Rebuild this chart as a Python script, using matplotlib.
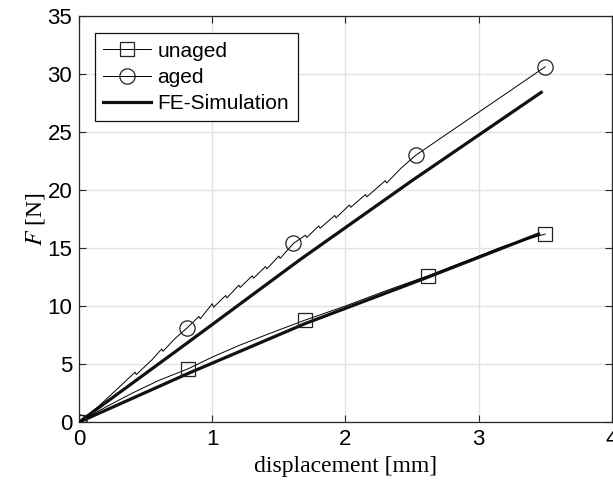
import matplotlib.pyplot as plt

# measured force-displacement curves
unaged_x = [0, 0.2, 0.4, 0.6, 0.82, 1.0, 1.2, 1.4, 1.7, 2.0, 2.3, 2.62, 3.0, 3.2, 3.5]
unaged_y = [0, 1.3, 2.5, 3.6, 4.6, 5.6, 6.6, 7.5, 8.8, 10.0, 11.3, 12.6, 14.3, 15.2, 16.2]
unaged_marks = [0, 4, 8, 11, 14]

aged_x = [0, 0.15, 0.3, 0.42, 0.43, 0.55, 0.62, 0.63, 0.72, 0.81, 0.9, 0.91, 1.0, 1.01,
          1.1, 1.11, 1.2, 1.21, 1.3, 1.31, 1.4, 1.41, 1.5, 1.51, 1.61, 1.7, 1.71, 1.8,
          1.81, 1.92, 1.93, 2.03, 2.04, 2.15, 2.16, 2.3, 2.31, 2.42, 2.53, 3.5]
aged_y = [0, 1.4, 3.0, 4.3, 4.1, 5.4, 6.3, 6.1, 7.2, 8.1, 9.1, 8.9, 10.2, 9.9,
          10.9, 10.7, 11.8, 11.6, 12.6, 12.4, 13.4, 13.2, 14.3, 14.1, 15.4, 16.1, 15.9, 16.9,
          16.7, 17.8, 17.6, 18.7, 18.5, 19.6, 19.4, 20.8, 20.6, 21.9, 23.0, 30.6]
aged_marks = [0, 9, 24, 38, 39]

# FE simulation results
fe_unaged_x = [0, 0.82, 1.7, 2.6, 3.45]
fe_unaged_y = [0, 4.2, 8.5, 12.4, 16.2]
fe_aged_x = [0, 0.81, 1.66, 2.5, 3.47]
fe_aged_y = [0, 6.8, 14.0, 20.8, 28.4]

plt.rcParams['font.family'] = ['Liberation Sans', 'DejaVu Sans']
plt.rcParams['mathtext.fontset'] = 'stix'

fig = plt.figure(figsize=(6.13, 4.92), dpi=100)
ax = fig.add_axes([0.129, 0.142, 0.869, 0.826])

ax.plot(unaged_x, unaged_y, color='black', lw=0.7, marker='s', markevery=unaged_marks,
        ms=9.5, mfc='none', mec='#222222', mew=0.9, label='unaged', zorder=3)
ax.plot(aged_x, aged_y, color='black', lw=0.7, marker='o', markevery=aged_marks,
        ms=11, mfc='none', mec='#222222', mew=0.9, label='aged', zorder=3)
ax.plot(fe_aged_x, fe_aged_y, color='#111111', lw=2.3, label='FE-Simulation', zorder=2)
ax.plot(fe_unaged_x, fe_unaged_y, color='#111111', lw=2.3, zorder=2)

ax.set_xlim(0, 4)
ax.set_ylim(0, 35)
ax.set_xticks([0, 1, 2, 3, 4])
ax.set_yticks(range(0, 36, 5))
ax.grid(True, color='#e3e3e3', lw=1)
ax.set_axisbelow(True)
ax.tick_params(direction='in', length=5, width=0.8, color='#262626',
               top=True, right=True, labelsize=16, pad=5)
for s in ax.spines.values():
    s.set_color('#262626')
    s.set_linewidth(0.9)

ax.set_xlabel('displacement [mm]', family='Liberation Serif', fontsize=17, labelpad=4)
ax.set_ylabel('$F$ [N]', family='Liberation Serif', fontsize=17, labelpad=0)

leg = ax.legend(loc='upper left', bbox_to_anchor=(0.03, 0.957), fontsize=15,
                fancybox=False, edgecolor='#111111', framealpha=1, numpoints=1,
                handlelength=2.3, borderpad=0.4, labelspacing=0.35, handletextpad=0.3,
                borderaxespad=0)
leg.get_frame().set_linewidth(0.9)

fig.savefig('out.png', dpi=100)
